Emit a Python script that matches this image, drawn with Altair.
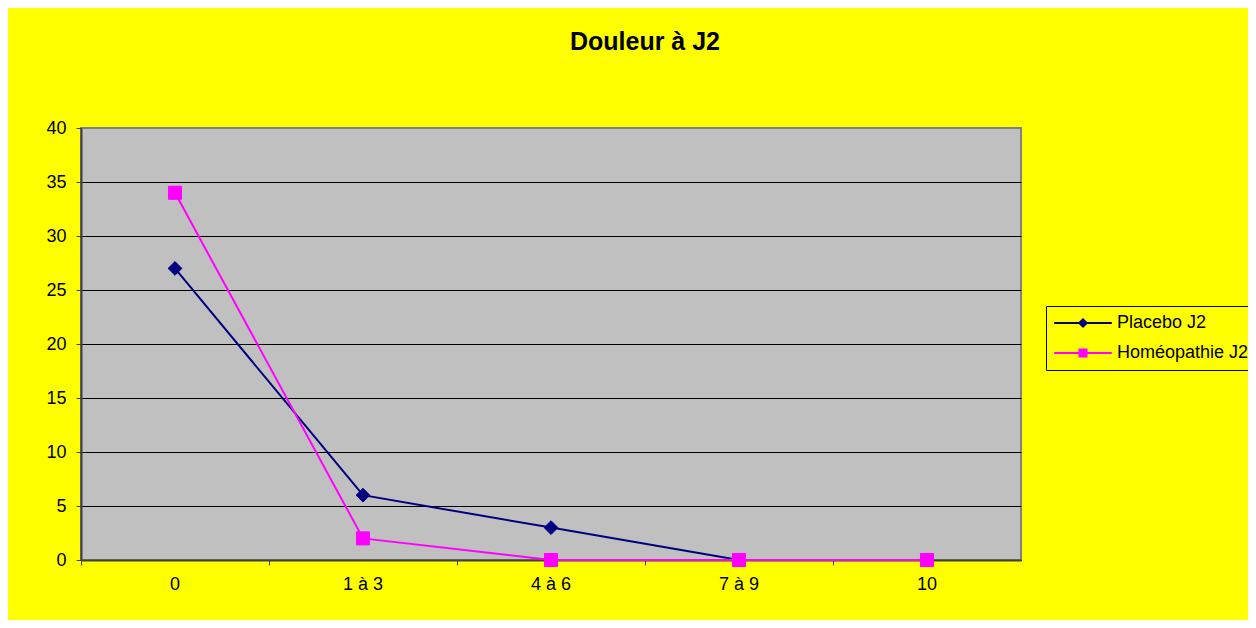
import altair as alt
import pandas as pd

# ---- data ----
categories = ["0", "1 à 3", "4 à 6", "7 à 9", "10"]
placebo_j2 = [27, 6, 3, 0, 0]
homeo_j2 = [34, 2, 0, 0, 0]
series_names = ["Placebo J2", "Homéopathie J2"]
series_values = [placebo_j2, homeo_j2]
series_colors = ["#000080", "#FF00FF"]
series_shapes = ["diamond", "square"]
series_sizes = [190, 170]
y_ticks = [0, 5, 10, 15, 20, 25, 30, 35, 40]

# legend glyphs: a short line with the marker on it (unit-box SVG paths)
legend_paths = [
    "M-4.8,-0.17H4.8V0.17H-4.8Z M0,-0.85L0.85,0L0,0.85L-0.85,0Z",
    "M-4.8,-0.17H4.8V0.17H-4.8Z M-0.75,-0.75H0.75V0.75H-0.75Z",
]

rows = []
for name, vals in zip(series_names, series_values):
    for c, v in zip(categories, vals):
        rows.append({"cat": c, "value": v, "series": name})
df = pd.DataFrame(rows)

FONT = "Liberation Sans"

x_enc = alt.X(
    "cat:N",
    sort=categories,
    scale=alt.Scale(type="band", domain=categories, paddingInner=0, paddingOuter=0),
    axis=alt.Axis(title=None, bandPosition=0, labelAngle=0,
                  grid=False, labelPadding=10, labelBaseline="top"),
)
y_enc = alt.Y(
    "value:Q",
    scale=alt.Scale(domain=[0, 40], nice=False, zero=True),
    axis=alt.Axis(
        title=None, values=y_ticks, grid=True, labelPadding=10,
        gridColor=alt.condition("datum.value == 40", alt.value("#808080"), alt.value("#000000")),
    ),
)

layers = []
for name, color, shape, size in zip(series_names, series_colors, series_shapes, series_sizes):
    base = alt.Chart(df).transform_filter(alt.datum.series == name)
    layers.append(base.mark_line(color=color, strokeWidth=2).encode(x=x_enc, y=y_enc))
for name, color, shape, size in zip(series_names, series_colors, series_shapes, series_sizes):
    base = alt.Chart(df).transform_filter(alt.datum.series == name)
    layers.append(
        base.mark_point(filled=True, shape=shape, size=size, color=color,
                        stroke=color, strokeWidth=1, opacity=1).encode(x=x_enc, y=y_enc)
    )

legend_def = alt.Legend(
    title=None,
    orient="none",
    legendX=965,
    legendY=178,
    padding=8,
    strokeColor="black",
    fillColor="#FFFF00",
    cornerRadius=0,
    symbolSize=144,
    symbolStrokeWidth=0,
    symbolOffset=20,
    labelOffset=25,
    labelFont=FONT,
    labelFontSize=18,
    labelColor="black",
    rowPadding=12,
)
legend_layer = (
    alt.Chart(df)
    .transform_filter("false")
    .mark_point(filled=True, opacity=1, size=144, strokeWidth=0)
    .encode(
        color=alt.Color("series:N", scale=alt.Scale(domain=series_names, range=series_colors),
                        legend=legend_def),
        shape=alt.Shape("series:N", scale=alt.Scale(domain=series_names, range=legend_paths),
                        legend=legend_def),
    )
)
layers.append(legend_layer)

chart = (
    alt.layer(*layers)
    .properties(
        width=940,
        height=432,
        background="#FFFF00",
        autosize=alt.AutoSizeParams(type="none"),
        padding={"left": 73, "top": 120, "right": 227, "bottom": 60},
        view=alt.ViewBackground(fill="#C0C0C0", stroke="#808080", strokeWidth=2),
        title=alt.TitleParams(
            "Douleur à J2", font=FONT, fontSize=25, fontWeight="bold", color="black",
            anchor="middle", frame="group", dx=94, baseline="bottom", offset=39,
        ),
    )
    .configure_view(fill="#C0C0C0", stroke="#808080", strokeWidth=2)
    .configure_axis(
        labelFont=FONT, labelFontSize=18, labelColor="black",
        domainColor="#404040", domainWidth=2,
        tickColor="#404040", tickWidth=1, tickSize=5,
        gridWidth=1, gridOpacity=1,
    )
)

chart.save("out.html", embed_options={"renderer": "svg", "actions": False})
